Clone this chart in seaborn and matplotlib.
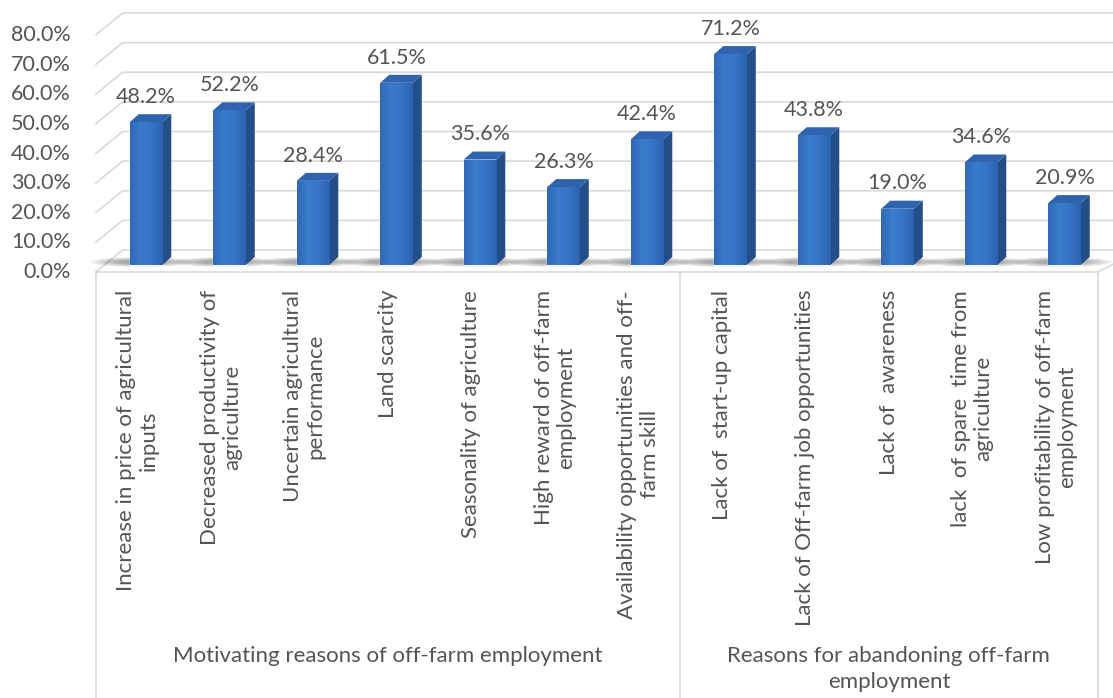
"""
Off-farm employment reasons: pseudo-3D column chart (Excel style) with seaborn
"""

import numpy as np
import pandas as pd
import matplotlib
matplotlib.use("Agg")
import matplotlib.pyplot as plt
import seaborn as sns
from matplotlib.patches import Polygon, Ellipse
from matplotlib.colors import LinearSegmentedColormap
from matplotlib.transforms import blended_transform_factory

reasons = [
    "Increase in price of agricultural\ninputs",
    "Decreased productivity of\nagriculture",
    "Uncertain agricultural\nperformance",
    "Land scarcity",
    "Seasonality of agriculture",
    "High reward of off-farm\nemployment",
    "Availability opportunities and off-\nfarm skill",
    "Lack of  start-up capital",
    "Lack of Off-farm job opportunities",
    "Lack of  awareness",
    "lack  of spare  time from\nagriculture",
    "Low profitability of off-farm\nemployment",
]
percent = [48.2, 52.2, 28.4, 61.5, 35.6, 26.3, 42.4, 71.2, 43.8, 19.0, 34.6, 20.9]
group_names = [
    "Motivating reasons of off-farm employment",
    "Reasons for abandoning off-farm\nemployment",
]
group_sizes = [7, 5]
y_ticks = [0, 10, 20, 30, 40, 50, 60, 70, 80]

FRONT = "#3372c4"
SIDE = "#234e87"
TOP = "#2f63ad"
GRID = "#d9d9d9"
TEXT = "#545454"
face_cmap = LinearSegmentedColormap.from_list("face", ["#3168b6", "#3a7bcc", "#3674c6", "#2c63b0"])

sns.set_theme(style="white")
plt.rcParams["font.family"] = ["Lato", "DejaVu Sans"]

W, H = 1113, 698
fig = plt.figure(figsize=(W / 100, H / 100), dpi=100)
# axes = plane of the bars (pixel layout)
ax = fig.add_axes([104.25 / W, (H - 265) / H, 1002 / W, 237 / H])
ax.patch.set_alpha(0)

df = pd.DataFrame({"reason": reasons, "pct": percent})
sns.barplot(data=df, x="reason", y="pct", color=FRONT, saturation=1,
            width=0.39, ax=ax, zorder=3)
ax.set_xlim(-0.5, len(reasons) - 0.5)
ax.set_ylim(0, 80)
ax.set_xlabel("")
ax.set_ylabel("")
ax.set_xticks([])
ax.set_yticks([])
sns.despine(ax=ax, left=True, bottom=True)

# pixel -> data conversions
pxx = 1002 / (len(reasons))
pxy = 237 / 80.0


def dx(px):
    return px / pxx


def dy(px):
    return px / pxy


# depth offsets: front plane, back wall, bar depth
fx, fy = dx(-8.6), dy(-7)
bx, by = dx(18.4), dy(15)
dbx, dby = dx(9), dy(8)

# gridlines: left wall slant + back wall
for v in y_ticks:
    ax.plot([-0.5 + fx, -0.5 + bx, 11.7 + bx], [v + fy, v + by, v + by],
            color=GRID, lw=1.2, clip_on=False, zorder=0)
    ax.text(-0.5 + fx - dx(25), v + fy, f"{v:.1f}%", ha="right", va="center",
            fontsize=15.5, color=TEXT)

# floor front edge and right edge
ax.plot([-0.5 + fx, 11.5 + fx, 11.7 + bx], [fy, fy, by], color=GRID, lw=1.2,
        clip_on=False, zorder=0)

# category frame below the floor
edges = np.cumsum([0] + group_sizes) - 0.5
for e in edges:
    ax.plot([e + fx, e + fx], [fy, -200], color=GRID, lw=1.2, clip_on=False, zorder=0)

# floor shadows and 3D faces
grad = np.linspace(0, 1, 64).reshape(1, -1)
for p in ax.patches[:len(percent)]:
    x0, w, h = p.get_x(), p.get_width(), p.get_height()
    for k in range(7):
        ax.add_patch(Ellipse((x0 + w / 2 - dx(4), dy(3)), w + dx(70 - 9 * k), dy(10 - k),
                             color="#303030", alpha=0.07, lw=0, clip_on=False, zorder=1))
    side = Polygon([(x0 + w, 0), (x0 + w + dbx, dby), (x0 + w + dbx, h + dby), (x0 + w, h)],
                   closed=True, facecolor=SIDE, edgecolor="none", zorder=3, clip_on=False)
    top = Polygon([(x0, h), (x0 + dbx, h + dby), (x0 + w + dbx, h + dby), (x0 + w, h)],
                  closed=True, facecolor=TOP, edgecolor="none", zorder=3, clip_on=False)
    ax.add_patch(side)
    ax.add_patch(top)
    p.set_clip_on(False)
    im = ax.imshow(grad, cmap=face_cmap, extent=(x0, x0 + w, 0, h), aspect="auto",
                   zorder=3.5, interpolation="bilinear")
    im.set_clip_path(p)

ax.set_xlim(-0.5, len(reasons) - 0.5)
ax.set_ylim(0, 80)

ax.bar_label(ax.containers[0], labels=[f"{v:.1f}%" for v in percent],
             padding=11, fontsize=15.5, color=TEXT)

# category labels (front plane), rotated
lab_tr = blended_transform_factory(ax.transData, fig.transFigure)
for i, name in enumerate(reasons):
    ax.text(i + fx, (H - 290) / H, name, rotation=90, ha="center", va="top",
            multialignment="center", fontsize=16, color=TEXT, transform=lab_tr,
            linespacing=1.15)

# group labels
start = 0
for name, n in zip(group_names, group_sizes):
    mid = start + (n - 1) / 2
    ax.text(mid + fx, (H - 646) / H, name, ha="center", va="top",
            multialignment="center", fontsize=16, color=TEXT, transform=lab_tr,
            linespacing=1.4)
    start += n

fig.savefig("out.png", dpi=100)
